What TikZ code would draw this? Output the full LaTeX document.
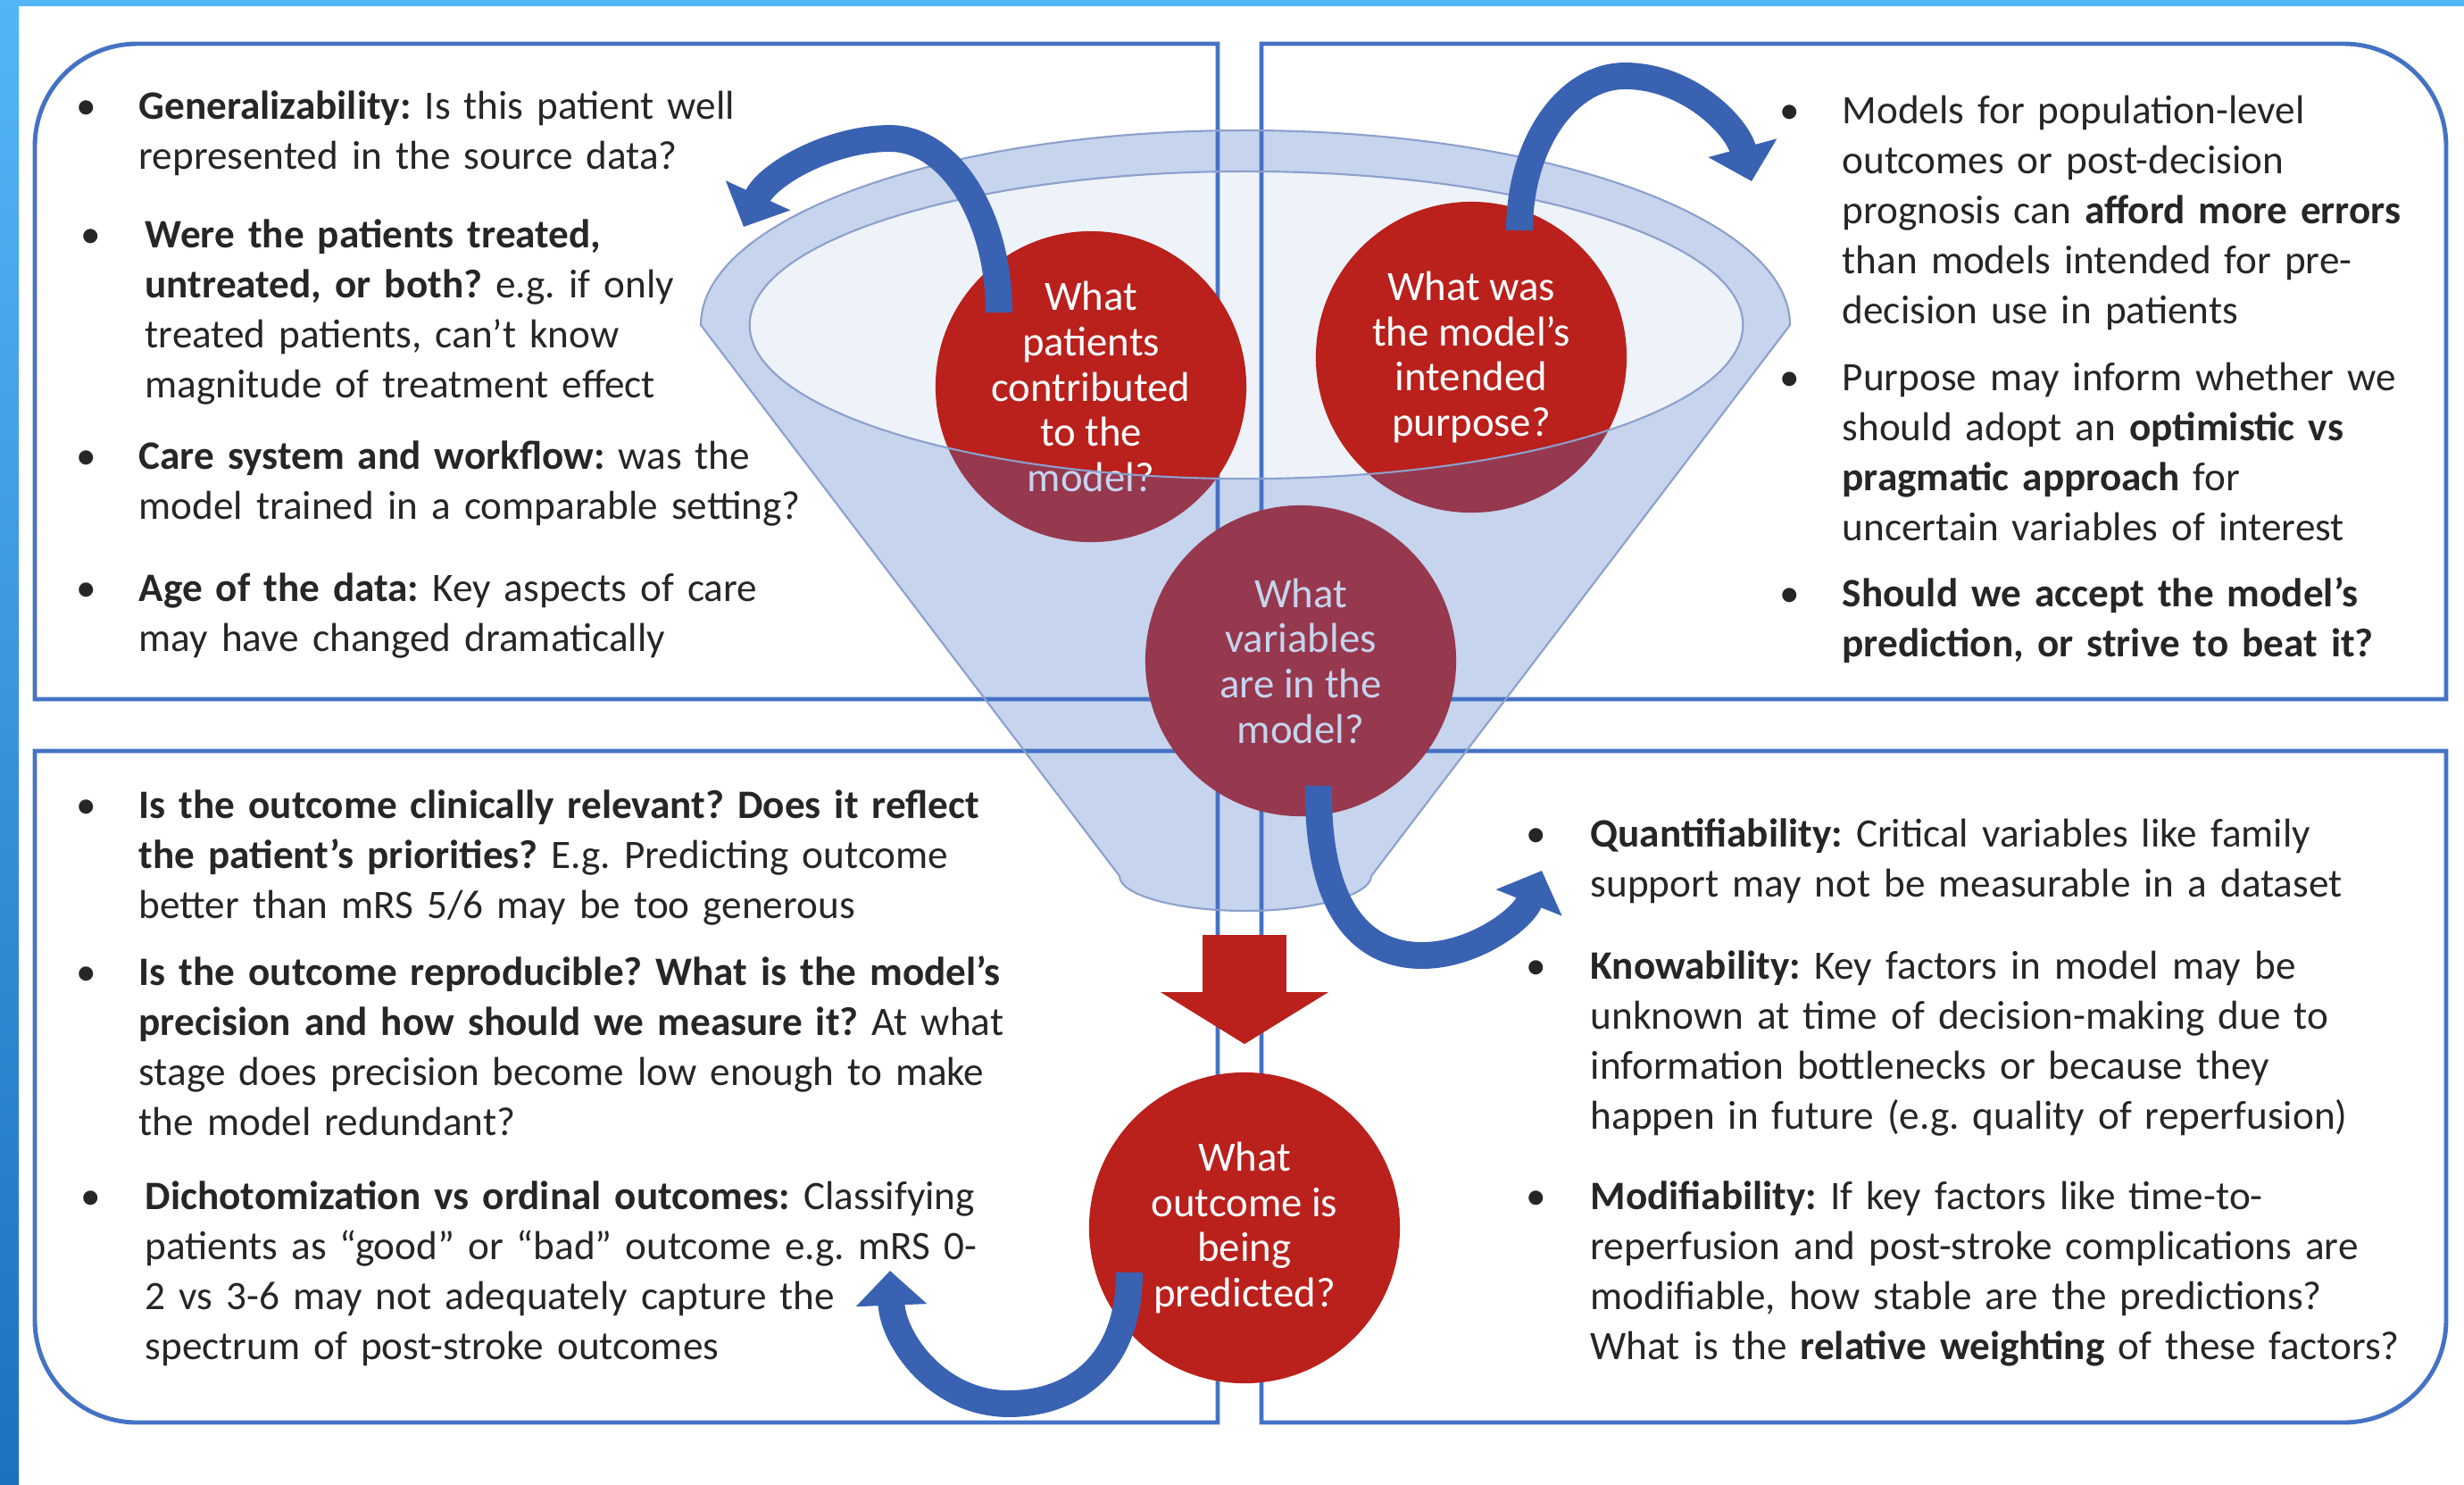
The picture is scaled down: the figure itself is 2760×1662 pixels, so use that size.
\documentclass[tikz,border=0pt]{standalone}
\usepackage{fontspec}
\setmainfont{Carlito}
\usepackage{tikz}
\usetikzlibrary{arrows.meta, calc}

\definecolor{boxblue}{RGB}{68,114,196}
\definecolor{arrowblue}{RGB}{58,98,178}
\definecolor{qred}{RGB}{186,32,28}
\definecolor{funnelblue}{RGB}{68,114,196}
\definecolor{funnelline}{RGB}{140,160,205}
\definecolor{textgray}{RGB}{38,38,38}
\definecolor{barlight}{RGB}{82,182,246}
\definecolor{bardark}{RGB}{30,112,192}

\newcommand{\itemfont}{\fontsize{12.85pt}{15.93pt}\selectfont\frenchspacing}
\newcommand{\qfont}{\fontsize{13.3pt}{14.4pt}\selectfont}

\begin{document}
\begin{tikzpicture}[x=0.01cm, y=-0.01cm]
    % Define styles
    \tikzstyle{boxline} = [draw=boxblue, line width=1.4pt]
    \tikzstyle{itemtext} = [anchor=base west, inner sep=0pt, align=left, font=\itemfont, text=textgray]
    \tikzstyle{bulletdot} = [anchor=base, inner sep=0pt, font=\itemfont, text=textgray]
    \tikzstyle{question} = [circle, fill=qred, minimum size=3.48cm, inner sep=0pt, align=center, text=white, font=\qfont]
    \tikzstyle{turnarrow} = [draw=arrowblue, line width=8.5pt, -{Triangle[width=22pt, length=11pt]}]
    \tikzstyle{downarrow} = [draw=qred, line width=26.7pt, -{Triangle[width=52.6pt, length=16.5pt]}]
    \tikzstyle{funnelrim} = [draw=funnelline, line width=0.6pt]

    \useasboundingbox (0,0) rectangle (2760,1662);
    \fill[white] (0,0) rectangle (2760,1662);
    \fill[barlight] (0,0) rectangle (2760,7);
    \shade[top color=barlight, bottom color=bardark] (0,0) rectangle (21,1662);

    % Boxes
    \draw[boxline] (1364,783) -- (39,783) -- (39,164) .. controls (39,100) and (90,49) .. (154,49) -- (1364,49) -- cycle;
    \draw[boxline] (1413,49) -- (2625,49) .. controls (2689,49) and (2740,100) .. (2740,164) -- (2740,783) -- (1413,783) -- cycle;
    \draw[boxline] (1364,841) -- (39,841) -- (39,1478) .. controls (39,1542) and (90,1593) .. (154,1593) -- (1364,1593) -- cycle;
    \draw[boxline] (1413,841) -- (2740,841) -- (2740,1478) .. controls (2740,1542) and (2689,1593) .. (2625,1593) -- (1413,1593) -- cycle;

    % Funnel opening
    \fill[funnelblue, fill opacity=0.09] (1396,364) ellipse [x radius=5.56cm, y radius=1.72cm];

    % Nodes
    \node[question] (pat) at (1222,433) {What\\patients\\contributed\\to the\\model?};
    \node[question] (was) at (1648,400) {What was\\the model’s\\intended\\purpose?};
    \node[question] (var) at (1457,740) {What\\variables\\are in the\\model?};

    % Funnel body
    \fill[funnelblue, fill opacity=0.3, even odd rule]
        (2005,364) .. controls (2005,244) and (1732,146) .. (1395,146)
        .. controls (1058,146) and (785,244) .. (785,364)
        -- (1254,981) .. controls (1254,1002) and (1317,1020) .. (1395,1020)
        .. controls (1473,1020) and (1536,1002) .. (1536,981) -- cycle
        (1396,364) ellipse [x radius=5.56cm, y radius=1.72cm];
    \draw[funnelrim]
        (2005,364) .. controls (2005,244) and (1732,146) .. (1395,146)
        .. controls (1058,146) and (785,244) .. (785,364)
        -- (1254,981) .. controls (1254,1002) and (1317,1020) .. (1395,1020)
        .. controls (1473,1020) and (1536,1002) .. (1536,981) -- cycle;
    \draw[funnelrim] (1396,364) ellipse [x radius=5.56cm, y radius=1.72cm];
    \coordinate (neck) at (1394,1020);

    \node[question] (out) at (1394,1375) {What\\outcome is\\being\\predicted?};

    % Arrows
    \draw[downarrow, shorten <=0.27cm, shorten >=0.31cm] (neck) -- (out);

    \coordinate (tipa) at (833,254);
    \coordinate (tipb) at (1962,203);
    \coordinate (tipc) at (1727,975);
    \coordinate (tipd) at (997,1423);
    \draw[turnarrow] ($(pat)+(-103,-83)$) .. controls +(0,-108) and +(67,0) .. (997,155)
        .. controls +(-67,0) and +(27,-59) .. (tipa);
    \draw[turnarrow] ($(was)+(54,-142)$) .. controls +(0,-96) and +(-65,0) .. (1820,85)
        .. controls +(70,0) and +(-17,-63) .. (tipb);
    \draw[turnarrow] ($(var)+(20,140)$) .. controls +(-2,130) and +(-73,0) .. (1593,1070)
        .. controls +(57,0) and +(-22,55) .. (tipc);
    \draw[turnarrow] ($(out)+(-129,50)$) .. controls +(0,105) and +(70,0) .. (1130,1572)
        .. controls +(-80,0) and +(3,77) .. (tipd);

    % Top left
    \node[bulletdot] (b1) at (97,133) {•};
    \node[itemtext, text width=8cm] (genz) at (155,133) {\textbf{Generalizability:} Is this patient well\\represented in the source data?};
    \node[bulletdot] (b2) at (102,277) {•};
    \node[itemtext, text width=8cm] (treated) at (162,277) {\textbf{Were the patients treated,}\\\textbf{untreated, or both?} e.g. if only\\treated patients, can’t know\\magnitude of treatment effect};
    \node[bulletdot] (b3) at (97,525) {•};
    \node[itemtext, text width=8cm] (caresys) at (155,525) {\textbf{Care system and workflow:} was the\\model trained in a comparable setting?};
    \node[bulletdot] (b4) at (97,673) {•};
    \node[itemtext, text width=8cm] (agedata) at (155,673) {\textbf{Age of the data:} Key aspects of care\\may have changed dramatically};

    % Top right
    \node[bulletdot] (b5) at (2005,138) {•};
    \node[itemtext, text width=6.7cm] (popmodels) at (2063,138) {Models for population-level\\outcomes or post-decision\\prognosis can \textbf{afford more errors}\\than models intended for pre-\\decision use in patients};
    \node[bulletdot] (b6) at (2005,437) {•};
    \node[itemtext, text width=6.7cm] (purpose) at (2063,437) {Purpose may inform whether we\\should adopt an \textbf{optimistic vs}\\\textbf{pragmatic approach} for\\uncertain variables of interest};
    \node[bulletdot] (b7) at (2005,679) {•};
    \node[itemtext, text width=6.7cm] (accept) at (2063,679) {\textbf{Should we accept the model’s}\\\textbf{prediction, or strive to beat it?}};

    % Bottom left
    \node[bulletdot] (b8) at (97,916) {•};
    \node[itemtext, text width=10cm] (relevant) at (155,916) {\textbf{Is the outcome clinically relevant? Does it reflect}\\\textbf{the patient’s priorities?} E.g. Predicting outcome\\better than mRS 5/6 may be too generous};
    \node[bulletdot] (b9) at (97,1103) {•};
    \node[itemtext, text width=10cm] (reproducible) at (155,1103) {\textbf{Is the outcome reproducible? What is the model’s}\\\textbf{precision and how should we measure it?} At what\\stage does precision become low enough to make\\the model redundant?};
    \node[bulletdot] (b10) at (102,1354) {•};
    \node[itemtext, text width=10cm] (dichot) at (162,1354) {\textbf{Dichotomization vs ordinal outcomes:} Classifying\\patients as “good” or “bad” outcome e.g. mRS 0-\\2 vs 3-6 may not adequately capture the\\spectrum of post-stroke outcomes};

    % Bottom right
    \node[bulletdot] (b11) at (1721,948) {•};
    \node[itemtext, text width=9.4cm] (quant) at (1781,948) {\textbf{Quantifiability:} Critical variables like family\\support may not be measurable in a dataset};
    \node[bulletdot] (b12) at (1721,1096) {•};
    \node[itemtext, text width=9.4cm] (know) at (1781,1096) {\textbf{Knowability:} Key factors in model may be\\unknown at time of decision-making due to\\information bottlenecks or because they\\happen in future (e.g. quality of reperfusion)};
    \node[bulletdot] (b13) at (1721,1354) {•};
    \node[itemtext, text width=9.4cm] (modif) at (1781,1354) {\textbf{Modifiability:} If key factors like time-to-\\reperfusion and post-stroke complications are\\modifiable, how stable are the predictions?\\What is the \textbf{relative weighting} of these factors?};
\end{tikzpicture}
\end{document}
